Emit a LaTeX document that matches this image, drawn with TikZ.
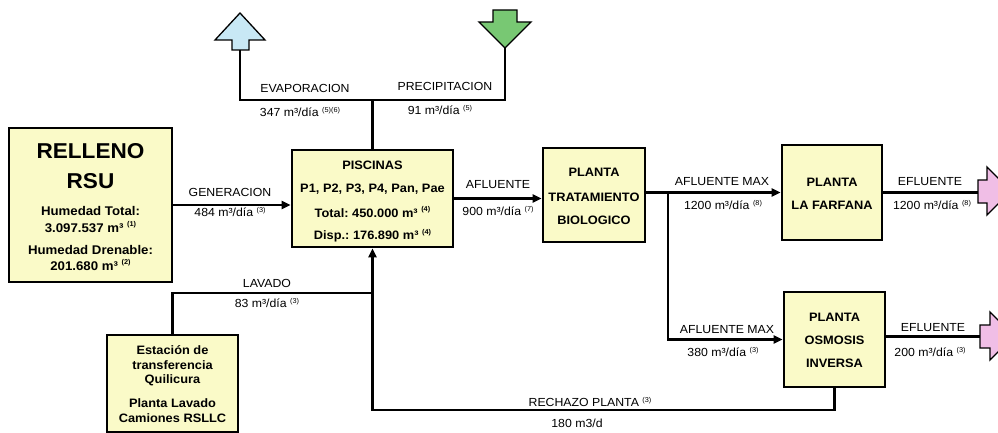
\documentclass[tikz,border=0pt]{standalone}
\usepackage{fontspec}
\setmainfont[FakeStretch=1.05]{Liberation Sans}
\usetikzlibrary{arrows.meta}
\definecolor{boxfill}{RGB}{250,250,200}
\definecolor{upblue}{RGB}{200,232,245}
\definecolor{downgreen}{RGB}{120,200,115}
\definecolor{outpink}{RGB}{240,190,230}
\newcommand{\nt}[1]{\raisebox{0.8ex}{\fontsize{7}{7}\selectfont(#1)}}
\frenchspacing
\begin{document}
\begin{tikzpicture}[x=1pt,y=-1pt,
  blk/.style={draw=black,line width=2.8pt,fill=boxfill,inner sep=0pt},
  bt/.style={font=\fontsize{12.2}{13}\selectfont\bfseries,inner sep=0pt},
  ht/.style={font=\fontsize{12.6}{13}\selectfont\bfseries,inner sep=0pt},
  big/.style={font=\fontsize{21.5}{23}\selectfont\bfseries,inner sep=0pt},
  lt/.style={font=\fontsize{11.7}{13}\selectfont,inner sep=0pt},
  flow/.style={line width=2.3pt},
  arr/.style={flow,-{Triangle[length=9pt,width=8pt]}},
  bigarrow/.style={draw=black,line width=1.3pt,line join=miter}
]
\useasboundingbox (0,0) rectangle (998,433);

% boxes
\node[blk,minimum width=163pt,minimum height=154pt] (rell) at (90.5,205) {};
\node[blk,minimum width=161pt,minimum height=97pt] (pisc) at (372.5,198.5) {};
\node[blk,minimum width=102pt,minimum height=94pt] (trat) at (594,195) {};
\node[blk,minimum width=100pt,minimum height=95pt] (farf) at (832,192.5) {};
\node[blk,minimum width=101pt,minimum height=95pt] (osm) at (834.5,339.5) {};
\node[blk,minimum width=131pt,minimum height=97pt] (est) at (172.5,383.5) {};

% box texts
\node[big] (r1) at (90.5,151) {RELLENO};
\node[big] (r2) at (90.5,181) {RSU};
\node[ht] (r3) at (90.5,211) {Humedad Total:};
\node[ht] (r4) at (90.5,227) {3.097.537 m³ \nt{1}};
\node[ht] (r5) at (90.5,250) {Humedad Drenable:};
\node[ht] (r6) at (90.5,265) {201.680 m³ \nt{2}};

\node[bt] (p1) at (372.5,165) {PISCINAS};
\node[bt] (p2) at (372.5,189) {P1, P2, P3, P4, Pan, Pae};
\node[bt] (p3) at (372.5,212) {Total: 450.000 m³ \nt{4}};
\node[bt] (p4) at (372.5,236) {Disp.: 176.890 m³ \nt{4}};

\node[bt] (t1) at (594,172) {PLANTA};
\node[bt] (t2) at (594,197) {TRATAMIENTO};
\node[bt] (t3) at (594,220) {BIOLOGICO};

\node[bt] (f1) at (832,182) {PLANTA};
\node[bt] (f2) at (832,205) {LA FARFANA};

\node[bt] (o1) at (834.5,317) {PLANTA};
\node[bt] (o2) at (834.5,340) {OSMOSIS};
\node[bt] (o3) at (834.5,363) {INVERSA};

\node[bt] (e1) at (172.5,350) {Estación de};
\node[bt] (e2) at (172.5,365) {transferencia};
\node[bt] (e3) at (172.5,380) {Quilicura};
\node[bt] (e4) at (172.5,403) {Planta Lavado};
\node[bt] (e5) at (172.5,418) {Camiones RSLLC};

% big arrows
\draw[bigarrow,fill=upblue] (232,50) -- (232,40) -- (215,40) -- (240,13) -- (265,40) -- (249,40) -- (249,50) -- cycle;
\draw[bigarrow,fill=downgreen] (493,10) -- (517,10) -- (517,22) -- (531,22) -- (505,48) -- (479,22) -- (493,22) -- cycle;
\draw[bigarrow,fill=outpink] (978,180) -- (987,180) -- (987,167) -- (1011,191) -- (987,215) -- (987,203) -- (978,203) -- cycle;
\draw[bigarrow,fill=outpink] (980,325) -- (990,325) -- (990,312) -- (1014,336) -- (990,360) -- (990,348) -- (980,348) -- cycle;

% coordinates
\coordinate (evb) at (240,50);
\coordinate (prb) at (505,48);
\coordinate (tj) at (372.5,100);
\coordinate (br) at (668,192.5);
\coordinate (pk1) at (978,192.5);
\coordinate (pk2) at (980,336.5);
\coordinate (rj) at (372.5,410);
\coordinate (lj) at (372.5,293);

% connectors
\draw[flow] (pisc.north) -- (tj);
\draw[flow] (evb) -- (evb |- tj) -- (prb |- tj) -- (prb);
\draw[arr] (rell.east) -- (rell.east -| pisc.west);
\draw[arr] (pisc.east) -- (pisc.east -| trat.west);
\draw[arr] (trat.east |- farf.west) -- (farf.west);
\draw[arr] (br) |- (osm.west);
\draw[flow] (farf.east) -- (pk1);
\draw[flow] (osm.east |- pk2) -- (pk2);
\draw[flow] (est.north) |- (lj);
\draw[arr] (osm.south) |- (rj) -- (pisc.south);

% labels
\node[lt] (l1) at (305,88) {EVAPORACION};
\node[lt] (l2) at (300,112) {347 m³/día \nt{5)(6}};
\node[lt] (l3) at (445,86) {PRECIPITACION};
\node[lt] (l4) at (440,110) {91 m³/día \nt{5}};
\node[lt] (l5) at (230,192) {GENERACION};
\node[lt] (l6) at (230,212) {484 m³/día \nt{3}};
\node[lt] (l7) at (498,185) {AFLUENTE};
\node[lt] (l8) at (498,211) {900 m³/día \nt{7}};
\node[lt] (l9) at (722,182) {AFLUENTE MAX};
\node[lt] (l10) at (723,205) {1200 m³/día \nt{8}};
\node[lt] (l11) at (930,182) {EFLUENTE};
\node[lt] (l12) at (932,205) {1200 m³/día \nt{8}};
\node[lt] (l13) at (727,330) {AFLUENTE MAX};
\node[lt] (l14) at (723,352) {380 m³/día \nt{3}};
\node[lt] (l15) at (933,328) {EFLUENTE};
\node[lt] (l16) at (930,352) {200 m³/día \nt{3}};
\node[lt] (l17) at (267,283) {LAVADO};
\node[lt] (l18) at (267,303) {83 m³/día \nt{3}};
\node[lt] (l19) at (590,402) {RECHAZO PLANTA \nt{3}};
\node[lt] (l20) at (577,423) {180 m3/d};
\end{tikzpicture}
\end{document}
